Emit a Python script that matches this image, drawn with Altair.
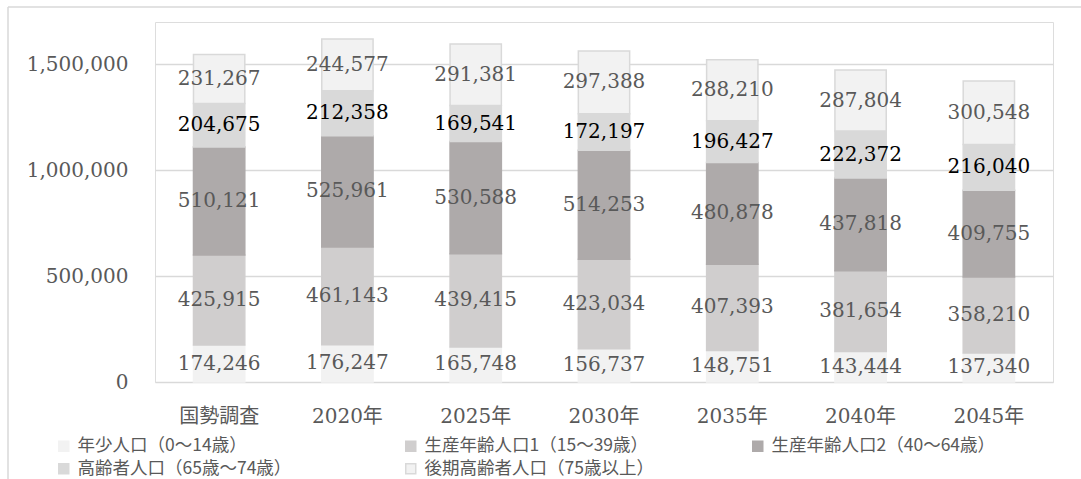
import altair as alt
import pandas as pd

categories = ["国勢調査", "2020年", "2025年", "2030年", "2035年", "2040年", "2045年"]
series = ["年少人口（0～14歳）", "生産年齢人口1（15～39歳）", "生産年齢人口2（40～64歳）",
          "高齢者人口（65歳～74歳）", "後期高齢者人口（75歳以上）"]
young = [174246, 176247, 165748, 156737, 148751, 143444, 137340]
work1 = [425915, 461143, 439415, 423034, 407393, 381654, 358210]
work2 = [510121, 525961, 530588, 514253, 480878, 437818, 409755]
elder = [204675, 212358, 169541, 172197, 196427, 222372, 216040]
late = [231267, 244577, 291381, 297388, 288210, 287804, 300548]
fills = ["#f2f2f2", "#d0cece", "#aeaaaa", "#d9d9d9", "#f2f2f2"]
strokes = ["#f2f2f2", "#d0cece", "#aeaaaa", "#d9d9d9", "#d9d9d9"]

rows = []
for si, (name, vals) in enumerate(zip(series, [young, work1, work2, elder, late])):
    for c, v in zip(categories, vals):
        rows.append({"cat": c, "series": name, "value": v, "order": si})
df = pd.DataFrame(rows)

NUMFONT = "DejaVu Serif, Noto Sans CJK JP"
GRAY = "#595959"

legend = alt.Legend(title=None, orient="none", legendX=-100, legendY=415,
                    direction="horizontal", columns=3, gridAlign="all", columnPadding=95,
                    rowPadding=4, symbolType="square", symbolSize=100, labelOffset=5,
                    labelFont="Noto Sans CJK JP", labelFontSize=17.5,
                    labelColor=GRAY, labelLimit=400, symbolStrokeWidth=1.5)

base = alt.Chart(df)

xenc = alt.X("cat:N", sort=categories,
             scale=alt.Scale(paddingInner=0.6, paddingOuter=0.3),
             axis=alt.Axis(title=None, labelAngle=0, labelFont=NUMFONT, labelFontSize=20,
                           labelColor=GRAY, domain=False, ticks=False, labelPadding=24))

bars = base.mark_bar(strokeWidth=1.5).encode(
    x=xenc,
    y=alt.Y("value:Q", stack="zero",
            scale=alt.Scale(domain=[0, 1700000], nice=False),
            axis=alt.Axis(title=None, values=[0, 500000, 1000000, 1500000], format=",d",
                          labelFont=NUMFONT, labelFontSize=20, labelColor=GRAY,
                          labelPadding=27, domain=False, ticks=False,
                          gridColor="#d9d9d9", gridWidth=1.5)),
    fill=alt.Fill("series:N", sort=series,
                  scale=alt.Scale(domain=series, range=fills), legend=legend),
    stroke=alt.Stroke("series:N", sort=series,
                      scale=alt.Scale(domain=series, range=strokes), legend=legend),
    order=alt.Order("order:Q"),
)

labels = base.transform_stack(
    stack="value", groupby=["cat"], as_=["y0", "y1"], sort=[alt.SortField("order")]
).transform_calculate(
    mid="(datum.y0 + datum.y1) / 2",
    isblack="datum.order == 3 ? 1 : 0",
).mark_text(font=NUMFONT, fontSize=20, baseline="middle").encode(
    x=alt.X("cat:N", sort=categories),
    y=alt.Y("mid:Q"),
    text=alt.Text("value:Q", format=",d"),
    color=alt.condition("datum.isblack == 1", alt.value("#000000"), alt.value(GRAY)),
)

frame_df = pd.DataFrame({"k": [0]})
top_line = alt.Chart(frame_df).mark_rule(color="#d9d9d9", strokeWidth=1.5).encode(
    x=alt.value(-147), x2=alt.value(926), y=alt.value(-15))
left_line = alt.Chart(frame_df).mark_rule(color="#d9d9d9", strokeWidth=1.5).encode(
    x=alt.value(-147), y=alt.value(-15), y2=alt.value(457))

chart = alt.layer(bars, labels, top_line, left_line).properties(
    width=898, height=360,
    autosize=alt.AutoSizeParams(type="none"),
    padding={"left": 155, "top": 22, "right": 28, "bottom": 97},
).configure_view(stroke=None).configure(background="white")

chart.save("out.html", embed_options={"renderer": "svg", "actions": False})
